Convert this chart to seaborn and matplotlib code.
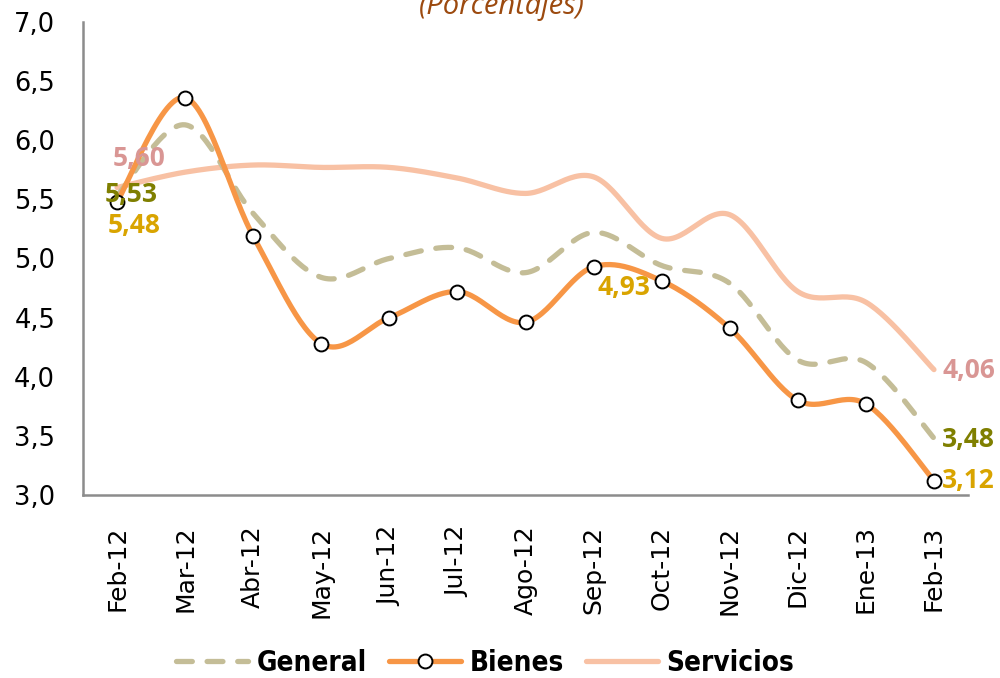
import numpy as np
import pandas as pd
import matplotlib
matplotlib.use("Agg")
import matplotlib.pyplot as plt
from matplotlib.lines import Line2D
from matplotlib.ticker import MultipleLocator, FuncFormatter
import seaborn as sns

months = ["Feb-12", "Mar-12", "Abr-12", "May-12", "Jun-12", "Jul-12", "Ago-12",
          "Sep-12", "Oct-12", "Nov-12", "Dic-12", "Ene-13", "Feb-13"]
general = [5.53, 6.13, 5.38, 4.84, 5.00, 5.09, 4.88, 5.22, 4.94, 4.79, 4.14, 4.12, 3.48]
bienes = [5.48, 6.36, 5.19, 4.28, 4.50, 4.72, 4.46, 4.93, 4.81, 4.41, 3.80, 3.77, 3.12]
servicios = [5.60, 5.73, 5.79, 5.77, 5.77, 5.68, 5.55, 5.69, 5.17, 5.37, 4.72, 4.63, 4.06]

c_general = "#c4bd97"
c_bienes = "#f79646"
c_servicios = "#f8c1a4"
c_lbl_serv = "#d99694"
c_lbl_gen = "#7f7f00"
c_lbl_bien = "#d9a400"


def smooth(y, n=30):
    # Excel-like smoothed line (Catmull-Rom bezier through the points)
    pts = np.column_stack([np.arange(len(y)), np.asarray(y, float)])
    ext = np.vstack([pts[0], pts, pts[-1]])
    out = []
    t = np.linspace(0, 1, n)[:, None]
    for i in range(1, len(ext) - 2):
        p0, p1, p2, p3 = ext[i - 1], ext[i], ext[i + 1], ext[i + 2]
        c1 = p1 + (p2 - p0) / 6
        c2 = p2 - (p3 - p1) / 6
        seg = ((1 - t) ** 3) * p1 + 3 * ((1 - t) ** 2) * t * c1 + 3 * (1 - t) * t ** 2 * c2 + t ** 3 * p2
        out.append(seg if i == 1 else seg[1:])
    s = np.vstack(out)
    return s[:, 0], s[:, 1]


sns.set_style("white")
plt.rcParams["font.family"] = ["DejaVu Sans"]
plt.rcParams["text.color"] = "black"
plt.rcParams["xtick.color"] = "black"
plt.rcParams["ytick.color"] = "black"

fig = plt.figure(figsize=(10, 6.78), dpi=100)
ax = fig.add_axes([0.083, 0.27, 0.885, 0.6976])

x = np.arange(len(months))
for vals, col, ls in [(servicios, c_servicios, "-"), (general, c_general, "--"), (bienes, c_bienes, "-")]:
    sx, sy = smooth(vals)
    df = pd.DataFrame({"x": sx, "y": sy})
    sns.lineplot(data=df, x="x", y="y", sort=False, estimator=None, ax=ax,
                 color=col, linewidth=3.8, solid_capstyle="round")
    if ls == "--":
        ax.lines[-1].set_dashes((3, 2.8))
        ax.lines[-1].set_dash_capstyle("round")

sns.scatterplot(x=x, y=bienes, ax=ax, s=100, color="white", edgecolor="black",
                linewidth=1.4, zorder=5)

lbl_font = dict(family="Open Sans", fontweight="bold", fontsize=19)
labels = [
    (0, servicios[0], "5,60", c_lbl_serv, (16, 21)),
    (0, general[0], "5,53", c_lbl_gen, (10, 1)),
    (0, bienes[0], "5,48", c_lbl_bien, (12, -17)),
    (7, bienes[7], "4,93", c_lbl_bien, (22, -15)),
    (12, servicios[12], "4,06", c_lbl_serv, (25, -1)),
    (12, general[12], "3,48", c_lbl_gen, (25, -1)),
    (12, bienes[12], "3,12", c_lbl_bien, (25, 0)),
]
for xi, yi, txt, col, off in labels:
    ax.annotate(txt, (xi, yi), xytext=off, textcoords="offset points",
                ha="center", va="center", color=col, zorder=6, **lbl_font)

ax.set_xlim(-0.5, len(months) - 0.5)
ax.set_ylim(3.0, 7.0)
ax.set_xlabel("")
ax.set_ylabel("")
ax.yaxis.set_major_locator(MultipleLocator(0.5))
ax.yaxis.set_minor_locator(MultipleLocator(0.1))
ax.yaxis.set_major_formatter(FuncFormatter(lambda v, p: f"{v:.1f}".replace(".", ",")))
ax.set_xticks(x)
ax.set_xticklabels(months, rotation=90, fontsize=18)
ax.set_xticks(np.arange(-0.5, len(months)), minor=True)

axis_col = "#8c8c8c"
ax.tick_params(axis="y", which="major", direction="in", length=9, width=1.5,
               color=axis_col, labelcolor="black", labelsize=18.5, pad=20)
ax.tick_params(axis="y", which="minor", direction="in", length=7, width=1.5, color=axis_col)
ax.tick_params(axis="x", which="major", length=0, pad=22, labelcolor="black")
ax.tick_params(axis="x", which="minor", direction="out", length=10, width=1.5, color=axis_col)
for side in ["top", "right"]:
    ax.spines[side].set_visible(False)
for side in ["left", "bottom"]:
    ax.spines[side].set_color(axis_col)
    ax.spines[side].set_linewidth(1.8)
ax.grid(False)

fig.text(0.502, 1 - 14 / 678, "(Porcentajes)", ha="center", va="baseline",
         color="#9c4a0f", fontsize=21, style="italic", family="Open Sans")

handles = [
    Line2D([], [], color=c_general, linewidth=3.8, dashes=(3, 2.8), dash_capstyle="round"),
    Line2D([], [], color=c_bienes, linewidth=3.8, marker="o", markersize=10,
           markerfacecolor="white", markeredgecolor="black", markeredgewidth=1.4),
    Line2D([], [], color=c_servicios, linewidth=3.8),
]
fig.legend(handles, ["General", "Bienes", "Servicios"], loc="center",
           bbox_to_anchor=(0.485, 0.022), ncol=3, frameon=False,
           handlelength=2.6, handletextpad=0.3, columnspacing=0.8,
           prop=dict(family="DejaVu Sans", stretch="condensed", weight="bold", size=20))

fig.savefig("out.png", dpi=100, facecolor="white")
